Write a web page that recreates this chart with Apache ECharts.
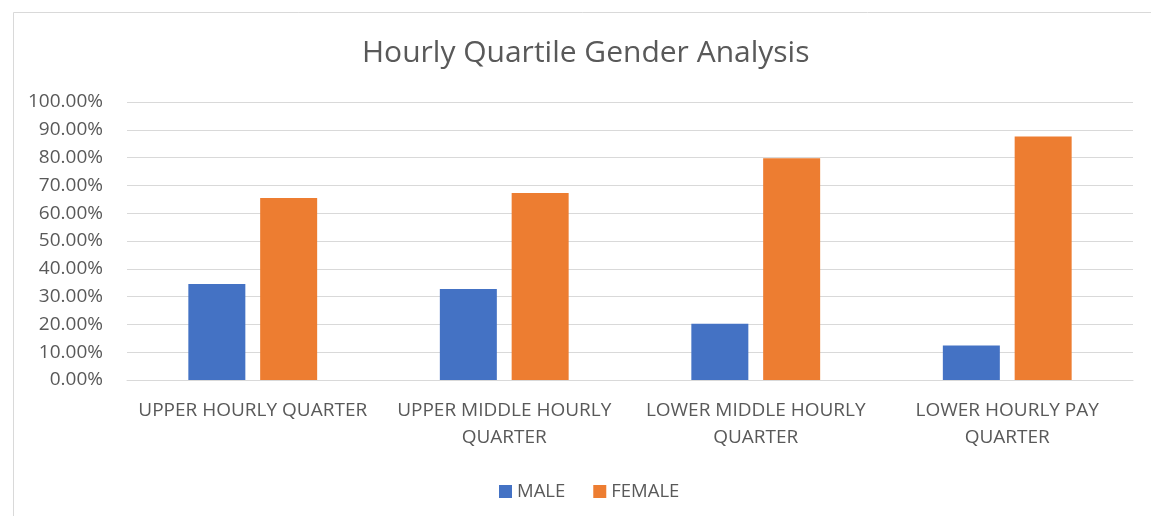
<!DOCTYPE html>
<html>
<head>
<meta charset="utf-8">
<script src="https://cdn.jsdelivr.net/npm/echarts@6/dist/echarts.min.js"></script>
<style>
html,body{margin:0;padding:0;background:#fff;}
#chart{width:1151px;height:516px;}
</style>
</head>
<body>
<div id="chart"></div>
<script>
const categories = ['UPPER HOURLY QUARTER', 'UPPER MIDDLE HOURLY QUARTER', 'LOWER MIDDLE HOURLY QUARTER', 'LOWER HOURLY PAY QUARTER'];
const male = [34.5, 32.7, 20.2, 12.4];
const female = [65.5, 67.3, 79.8, 87.6];
const seriesNames = ['MALE', 'FEMALE'];
const titleText = 'Hourly Quartile Gender Analysis';

const FONT = 'Open Sans';
const TXT = '#595959';

function wrapLabel(s) {
  if (s.length <= 20) return s;
  const i = s.lastIndexOf(' ');
  return s.slice(0, i) + '\n' + s.slice(i + 1);
}

const chart = echarts.init(document.getElementById('chart'), null, {renderer: 'canvas'});
chart.setOption({
  animation: false,
  backgroundColor: '#fff',
  graphic: [{
    type: 'rect',
    left: 11, top: 10,
    shape: {width: 1200, height: 600},
    style: {fill: 'none', stroke: '#d9d9d9', lineWidth: 1},
    silent: true
  }],
  title: {
    text: titleText,
    left: 357,
    top: 33,
    textStyle: {fontFamily: FONT, fontSize: 30, fontWeight: 'normal', color: TXT}
  },
  legend: {
    data: seriesNames,
    left: 494,
    top: 477,
    itemWidth: 13,
    itemHeight: 13,
    itemGap: 28,
    icon: 'rect',
    textStyle: {fontFamily: FONT, fontSize: 18.5, color: TXT, padding: [0, 0, 0, 0]}
  },
  grid: {left: 127, right: 18, top: 102, bottom: 136, containLabel: false},
  xAxis: {
    type: 'category',
    data: categories,
    axisLine: {lineStyle: {color: '#d9d9d9', width: 1}},
    axisTick: {show: false},
    axisLabel: {
      fontFamily: FONT, fontSize: 19, color: TXT, margin: 17, lineHeight: 27,
      interval: 0,
      formatter: wrapLabel
    }
  },
  yAxis: {
    type: 'value',
    min: 0, max: 100, interval: 10,
    axisLine: {show: false},
    axisTick: {show: false},
    splitLine: {lineStyle: {color: '#d9d9d9', width: 1}},
    axisLabel: {
      fontFamily: FONT, fontSize: 19, color: TXT, margin: 24,
      formatter: v => v.toFixed(2) + '%'
    }
  },
  series: [
    {name: seriesNames[0], type: 'bar', data: male, barWidth: 57, barGap: '26%', itemStyle: {color: '#4472C4'}},
    {name: seriesNames[1], type: 'bar', data: female, barWidth: 57, itemStyle: {color: '#ED7D31'}}
  ]
});
</script>
</body>
</html>
